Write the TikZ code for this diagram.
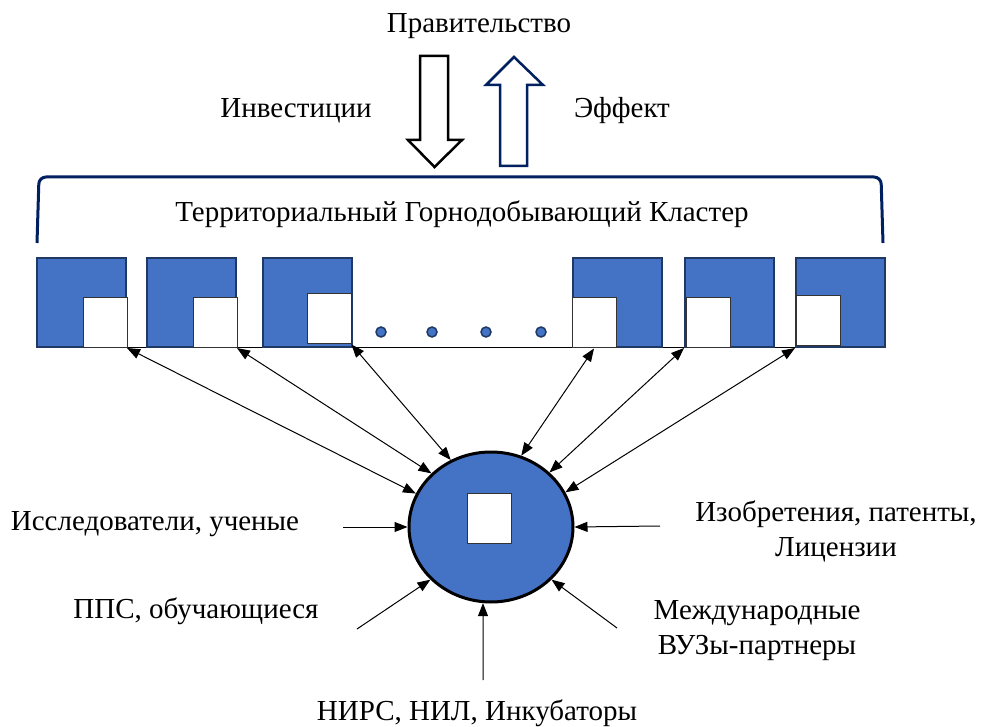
\documentclass[tikz,border=0pt]{standalone}
\usepackage{fontspec}
\setmainfont{Liberation Serif}
\usetikzlibrary{arrows.meta,shapes.geometric}
\definecolor{navy}{HTML}{002060}
\definecolor{boxblue}{HTML}{4472C4}
\definecolor{boxedge}{HTML}{1F3864}
\begin{document}
\begin{tikzpicture}[x=1pt,y=-1pt,
  lbl/.style={font=\fontsize{29}{35}\selectfont, inner sep=0pt, align=center},
  bigsq/.style={draw=boxedge, fill=boxblue, line width=2pt, minimum width=89pt, minimum height=89pt, inner sep=0pt},
  insq/.style={draw=black!80, fill=white, line width=1pt, minimum width=44pt, minimum height=50pt, inner sep=0pt},
  dotc/.style={circle, draw=boxedge, fill=boxblue, line width=1.5pt, minimum size=10pt, inner sep=0pt},
  link/.style={line width=1pt, {Triangle[length=13pt,width=10pt]}-{Triangle[length=13pt,width=10pt]}},
  feed/.style={line width=1pt, -{Triangle[length=13pt,width=10pt]}}]
\useasboundingbox (0,0) rectangle (983,727);

% top labels
\node[lbl] (gov) at (479,26) {Правительство};
\node[lbl] (inv) at (296,111) {Инвестиции};
\node[lbl] (eff) at (622,111) {Эффект};

% big arrows
\draw[line width=2.5pt, fill=white, line join=miter] (420,56) -- (448,56) -- (448,140) -- (462,140) -- (434.5,167) -- (408,140) -- (420,140) -- cycle;
\draw[navy, line width=2.5pt, fill=white, line join=miter] (500,166) -- (527,166) -- (527,85) -- (543,85) -- (514,57) -- (486,85) -- (500,85) -- cycle;

% bracket
\draw[navy, line width=3pt, rounded corners=7pt] (37,243) -- (39,177) -- (881,177) -- (883,243);
\node[lbl] (cl) at (462,214) {Территориальный Горнодобывающий Кластер};

% baseline
\draw[line width=1pt] (36,348) -- (885,348);

% squares
\node[bigsq] (s1) at (81.5,302.5) {};
\node[insq] (i1) at (105,323) {};
\node[bigsq] (s2) at (191.5,302.5) {};
\node[insq] (i2) at (215,323) {};
\node[bigsq] (s3) at (307,302.5) {};
\node[insq] (i3) at (329,319) {};
\node[bigsq] (s4) at (617,302.5) {};
\node[insq] (i4) at (594,323) {};
\node[bigsq] (s5) at (729.5,302.5) {};
\node[insq] (i5) at (708,323) {};
\node[bigsq] (s6) at (840.5,302.5) {};
\node[insq] (i6) at (818.5,320.5) {};

% dots
\node[dotc] (d1) at (381,332) {};
\node[dotc] (d2) at (432,332) {};
\node[dotc] (d3) at (486,332) {};
\node[dotc] (d4) at (541,332) {};

% circle
\node[ellipse, draw, fill=boxblue, line width=3pt, minimum width=164pt, minimum height=150pt, inner sep=0pt] (c) at (491,527) {};
\node[insq] (ic) at (489,518.5) {};

% links
\draw[link] (s1.south east) -- (c.156);
\draw[link] (s2.south east) -- (c.138);
\draw[link] (i3.south east) -- (c.121);
\draw[link] (i4.south) -- (c.67);
\draw[link] (s5.south west) -- (c.43);
\draw[link] (s6.south west) -- (c.25);

% side labels
\node[lbl] (res) at (155,524) {Исследователи, ученые};
\node[lbl] (pps) at (196,611) {ППС, обучающиеся};
\node[lbl] (nirs) at (477,713) {НИРС, НИЛ, Инкубаторы};
\node[lbl] (mvu) at (757,631) {Международные\\ВУЗы-партнеры};
\node[lbl] (izo) at (836,531) {Изобретения, патенты,\\Лицензии};

\coordinate (fa) at (343,527);
\coordinate (fb) at (357,629);
\coordinate (fc) at (483,680);
\coordinate (fd) at (617,628);
\coordinate (fe) at (660,526);

\draw[feed] (fa) -- (c.180);
\draw[feed] (fb) -- (c.221);
\draw[feed] (fc) -- (c.264);
\draw[feed] (fd) -- (c.319);
\draw[feed] (fe) -- (c.0);
\end{tikzpicture}
\end{document}
